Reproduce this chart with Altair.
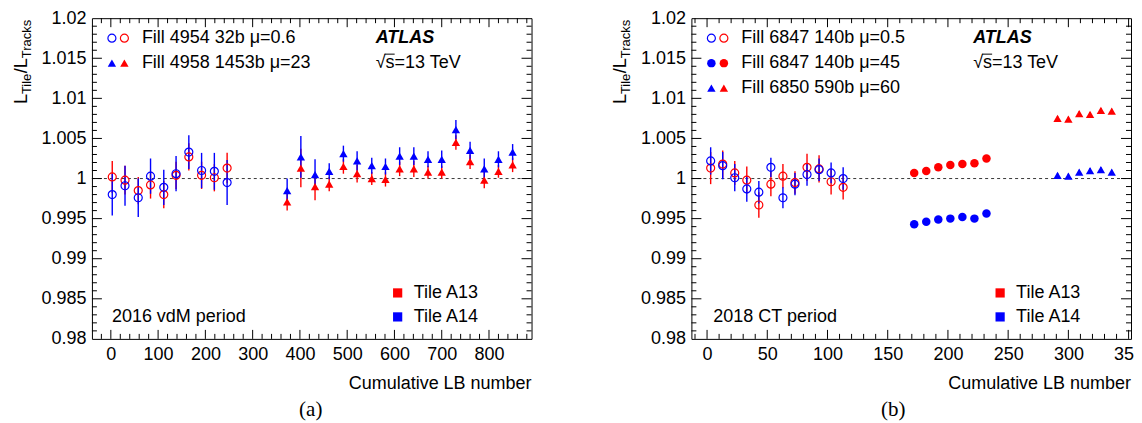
import altair as alt
import pandas as pd

# ---------------- data ----------------
# Panel (a): 2016 vdM period
a_fill4954_x = [3, 30, 58, 84, 112, 138, 165, 192, 219, 246]
a_fill4954_a13 = [1.0002, 0.9998, 0.9985, 0.9992, 0.9980, 1.0004, 1.0027, 1.0004, 1.0001, 1.0013]
a_fill4954_a13_err = [0.0020, 0.0018, 0.0017, 0.0017, 0.0017, 0.0017, 0.0017, 0.0017, 0.0017, 0.0019]
a_fill4954_a14 = [0.9980, 0.9991, 0.9976, 1.0003, 0.9989, 1.0006, 1.0033, 1.0010, 1.0009, 0.9995]
a_fill4954_a14_err = [0.0026, 0.0025, 0.0024, 0.0022, 0.0022, 0.0022, 0.0021, 0.0022, 0.0023, 0.0028]

a_fill4958_x = [373, 402, 432, 462, 492, 521, 552, 581, 611, 641, 671, 700, 730, 760, 790, 820, 850]
a_fill4958_a13 = [0.9971, 1.0013, 0.9990, 0.9993, 1.0015, 1.0006, 1.0000, 0.9999, 1.0012, 1.0012,
                  1.0008, 1.0008, 1.0045, 1.0021, 0.9998, 1.0009, 1.0017]
a_fill4958_a13_err = [0.0011, 0.0024, 0.0017, 0.0009, 0.0009, 0.0011, 0.0008, 0.0009, 0.0009, 0.0010,
                      0.0008, 0.0008, 0.0009, 0.0009, 0.0010, 0.0008, 0.0009]
a_fill4958_a14 = [0.9985, 1.0027, 1.0005, 1.0009, 1.0031, 1.0022, 1.0016, 1.0015, 1.0028, 1.0028,
                  1.0024, 1.0024, 1.0061, 1.0035, 1.0012, 1.0024, 1.0033]
a_fill4958_a14_err = [0.0015, 0.0026, 0.0019, 0.0010, 0.0010, 0.0012, 0.0010, 0.0010, 0.0011, 0.0011,
                      0.0010, 0.0011, 0.0012, 0.0011, 0.0013, 0.0010, 0.0010]

# Panel (b): 2018 CT period
b_fill6847_low_x = [3, 13, 23, 33, 43, 53, 63, 73, 83, 93, 103, 113]
b_fill6847_low_a13 = [1.0013, 1.0018, 1.0007, 0.9998, 0.9967, 0.9993, 1.0003, 0.9995, 1.0014, 1.0012, 0.9996, 0.9989]
b_fill6847_low_a13_err = [0.0020, 0.0017, 0.0015, 0.0017, 0.0016, 0.0015, 0.0015, 0.0014, 0.0017, 0.0017, 0.0016, 0.0015]
b_fill6847_low_a14 = [1.0022, 1.0016, 1.0001, 0.9987, 0.9983, 1.0014, 0.9976, 0.9993, 1.0005, 1.0011, 1.0007, 1.0000]
b_fill6847_low_a14_err = [0.0017, 0.0017, 0.0017, 0.0016, 0.0014, 0.0012, 0.0013, 0.0014, 0.0014, 0.0014, 0.0013, 0.0014]

b_fill6847_high_x = [172, 182, 192, 202, 212, 222, 232]
b_fill6847_high_a13 = [1.0007, 1.00095, 1.0014, 1.0017, 1.0018, 1.0019, 1.0025]
b_fill6847_high_a13_err = [0.0002, 0.0002, 0.0002, 0.0002, 0.0002, 0.0002, 0.0002]
b_fill6847_high_a14 = [0.9943, 0.9946, 0.9949, 0.9950, 0.9952, 0.9950, 0.99565]
b_fill6847_high_a14_err = [0.0002, 0.0002, 0.0002, 0.0002, 0.0002, 0.0002, 0.0002]

b_fill6850_x = [291, 300, 309, 318, 327, 336]
b_fill6850_a13 = [1.0075, 1.0074, 1.0081, 1.0080, 1.0085, 1.0084]
b_fill6850_a13_err = [0.0003, 0.0003, 0.0003, 0.0003, 0.0003, 0.0003]
b_fill6850_a14 = [1.0004, 1.0003, 1.0008, 1.0010, 1.0011, 1.0008]
b_fill6850_a14_err = [0.0003, 0.0003, 0.0003, 0.0003, 0.0003, 0.0003]

# tick / label values
y_label_values = [0.98, 0.985, 0.99, 0.995, 1.0, 1.005, 1.01, 1.015, 1.02]
a_x_labels = [0, 100, 200, 300, 400, 500, 600, 700, 800]
b_x_labels = [0, 50, 100, 150, 200, 250, 300, 350]

RED = "#ff0000"
BLUE = "#0000ff"
FONT = "Liberation Sans"
W, H = 440, 321


def one():
    return pd.DataFrame({"k": [0]})


def series_df(x, a13, a13e, a14, a14e):
    rows = []
    for xi, v, e in zip(x, a13, a13e):
        rows.append({"x": xi, "y": v, "lo": v - e, "hi": v + e, "tile": "A13"})
    for xi, v, e in zip(x, a14, a14e):
        rows.append({"x": xi, "y": v, "lo": v - e, "hi": v + e, "tile": "A14"})
    return pd.DataFrame(rows)


def txt(x, y, s, **kw):
    props = dict(font=FONT, fontSize=18, color="black", align="left", baseline="middle")
    props.update(kw)
    return alt.Chart(one()).mark_text(**props).encode(
        x=alt.value(x), y=alt.value(y), text=alt.value(s))


def sym(x, y, color, kind):
    if kind == "open":
        m = alt.Chart(one()).mark_point(shape="circle", filled=False, size=64, strokeWidth=1.2, opacity=1)
        return m.encode(x=alt.value(x), y=alt.value(y), stroke=alt.value(color))
    if kind == "filled":
        m = alt.Chart(one()).mark_point(shape="circle", filled=True, size=72, opacity=1)
    elif kind == "tri":
        m = alt.Chart(one()).mark_point(shape="triangle-up", filled=True, size=70, opacity=1)
    else:
        m = alt.Chart(one()).mark_point(shape="square", filled=True, size=85, opacity=1)
    return m.encode(x=alt.value(x), y=alt.value(y), fill=alt.value(color))


def ytitle(x0, ybottom):
    # L_{Tile}/L_{Tracks}, rotated, reading bottom to top
    big, small = 18, 13
    pieces = [("L", big, 0.556), ("Tile", small, 1.611), ("/", big, 0.278),
              ("L", big, 0.556), ("Tracks", small, 3.0)]
    layers = []
    y = ybottom
    for s, fs, em in pieces:
        xx = x0 if fs == big else x0 + 4
        layers.append(alt.Chart(one()).mark_text(
            font=FONT, fontSize=fs, angle=270, align="left", baseline="alphabetic", color="black"
        ).encode(x=alt.value(xx), y=alt.value(y), text=alt.value(s)))
        y -= em * fs
    return layers


def panel(xdom, xlabels, xmajor, xminor, series, legend_rows, period, letter, letter_x,
          atlas_x, leg_x, sq_x, period_x):
    xs = alt.Scale(domain=xdom, nice=False, zero=False)
    ys = alt.Scale(domain=[0.98, 1.02], nice=False, zero=False)
    color = alt.Scale(domain=["A13", "A14"], range=[RED, BLUE])
    xax = alt.Axis(values=xlabels, format="d", ticks=False, domain=False, grid=False,
                   labelFontSize=18, labelFont=FONT, labelColor="black", labelPadding=7,
                   labelFlush=False, labelOverlap=False, title=None)
    yax = alt.Axis(values=y_label_values, format=".3~f", ticks=False, domain=False, grid=False,
                   labelFontSize=18, labelFont=FONT, labelColor="black", labelPadding=6,
                   labelFlush=False, labelOverlap=False, title=None)

    def X(f):
        return alt.X(f"{f}:Q", scale=xs, axis=xax, title=None)

    def Y(f):
        return alt.Y(f"{f}:Q", scale=ys, axis=yax, title=None)

    layers = []
    # dashed reference line at 1
    layers.append(alt.Chart(pd.DataFrame({"y": [1.0]})).mark_rule(
        strokeDash=[3, 3], strokeWidth=0.9, color="#222").encode(
        y=Y("y"), x=alt.value(0), x2=alt.value(W)))
    # inward ticks
    y_major = [0.985, 0.99, 0.995, 1.0, 1.005, 1.01, 1.015]
    y_minor = [round(0.98 + 0.001 * i, 3) for i in range(1, 40) if i % 5]
    for vals, ln in ((xmajor, 9), (xminor, 5)):
        d = pd.DataFrame({"x": vals})
        layers.append(alt.Chart(d).mark_rule(color="black", strokeWidth=1).encode(
            x=X("x"), y=alt.value(H), y2=alt.value(H - ln)))
        layers.append(alt.Chart(d).mark_rule(color="black", strokeWidth=1).encode(
            x=X("x"), y=alt.value(0), y2=alt.value(ln)))
    for vals, ln in ((y_major, 10), (y_minor, 5)):
        d = pd.DataFrame({"y": vals})
        layers.append(alt.Chart(d).mark_rule(color="black", strokeWidth=1).encode(
            y=Y("y"), x=alt.value(0), x2=alt.value(ln)))
        layers.append(alt.Chart(d).mark_rule(color="black", strokeWidth=1).encode(
            y=Y("y"), x=alt.value(W), x2=alt.value(W - ln)))

    # data
    for kind, df in series:
        base = alt.Chart(df)
        layers.append(base.mark_rule(strokeWidth=1.4).encode(
            x=X("x"), y=Y("lo"), y2=alt.Y2("hi"),
            color=alt.Color("tile:N", scale=color, legend=None)))
        if kind == "open":
            mk = base.mark_point(shape="circle", filled=False, size=64, strokeWidth=1.2, opacity=1)
        elif kind == "filled":
            mk = base.mark_point(shape="circle", filled=True, size=72, opacity=1)
        else:
            mk = base.mark_point(shape="triangle-up", filled=True, size=70, opacity=1)
        layers.append(mk.encode(x=X("x"), y=Y("y"),
                                color=alt.Color("tile:N", scale=color, legend=None)))

    # legend (top-left)
    for i, (kind, label) in enumerate(legend_rows):
        yy = 20 + 25 * i
        layers.append(sym(leg_x, yy, BLUE, kind))
        layers.append(sym(leg_x + 12.5, yy, RED, kind))
        layers.append(txt(leg_x + 30, yy, label))
    # ATLAS label
    layers.append(txt(atlas_x, 20, "ATLAS", fontWeight="bold", fontStyle="italic"))
    layers.append(txt(atlas_x, 45, "\u221as=13 TeV"))
    layers.append(alt.Chart(one()).mark_rule(color="black", strokeWidth=1).encode(
        x=alt.value(atlas_x + 9), x2=alt.value(atlas_x + 19), y=alt.value(36)))
    # tile legend (bottom-right)
    layers.append(sym(sq_x, 275, RED, "square"))
    layers.append(txt(sq_x + 16, 275, "Tile A13"))
    layers.append(sym(sq_x, 299, BLUE, "square"))
    layers.append(txt(sq_x + 16, 299, "Tile A14"))
    layers.append(txt(period_x, 299, period))
    # axis titles
    layers.append(txt(W, 366, "Cumulative LB number", align="right"))
    layers += ytitle(-65, 86)
    layers.append(txt(letter_x, 392, letter, font="Liberation Serif", fontSize=21, align="center"))

    return alt.layer(*layers).properties(width=W, height=H)


left = panel(
    [-40, 890], a_x_labels, a_x_labels,
    [v for v in range(-20, 890, 20) if v % 100],
    [("open", series_df(a_fill4954_x, a_fill4954_a13, a_fill4954_a13_err, a_fill4954_a14, a_fill4954_a14_err)),
     ("tri", series_df(a_fill4958_x, a_fill4958_a13, a_fill4958_a13_err, a_fill4958_a14, a_fill4958_a14_err))],
    [("open", "Fill 4954 32b \u03bc=0.6"), ("tri", "Fill 4958 1453b \u03bc=23")],
    "2016 vdM period", "(a)", 219, atlas_x=284, leg_x=20, sq_x=306, period_x=20)

right = panel(
    [-13, 352], b_x_labels, b_x_labels,
    [v for v in range(-10, 352, 10) if v % 50],
    [("open", series_df(b_fill6847_low_x, b_fill6847_low_a13, b_fill6847_low_a13_err, b_fill6847_low_a14, b_fill6847_low_a14_err)),
     ("filled", series_df(b_fill6847_high_x, b_fill6847_high_a13, b_fill6847_high_a13_err, b_fill6847_high_a14, b_fill6847_high_a14_err)),
     ("tri", series_df(b_fill6850_x, b_fill6850_a13, b_fill6850_a13_err, b_fill6850_a14, b_fill6850_a14_err))],
    [("open", "Fill 6847 140b \u03bc=0.5"), ("filled", "Fill 6847 140b \u03bc=45"), ("tri", "Fill 6850 590b \u03bc=60")],
    "2018 CT period", "(b)", 202, atlas_x=282, leg_x=20, sq_x=309, period_x=22)

chart = alt.hconcat(left, right, spacing=79).properties(
    padding={"left": 4, "top": 0, "right": -11, "bottom": 0},
    background="white",
).configure_view(stroke="black", strokeWidth=1)

chart.save("out.html", embed_options={"renderer": "svg", "actions": False})
